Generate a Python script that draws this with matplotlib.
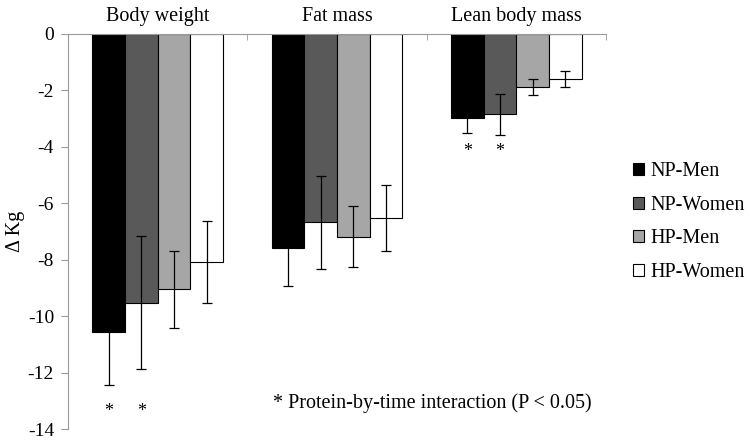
import matplotlib
matplotlib.use("Agg")
import matplotlib.pyplot as plt
import numpy as np
from matplotlib.patches import Patch

categories = ["Body weight", "Fat mass", "Lean body mass"]
groups = ["NP-Men", "NP-Women", "HP-Men", "HP-Women"]
values = {
    "NP-Men":   [-10.55, -7.58, -2.97],
    "NP-Women": [-9.52, -6.67, -2.85],
    "HP-Men":   [-9.05, -7.18, -1.87],
    "HP-Women": [-8.07, -6.52, -1.59],
}
errors = {
    "NP-Men":   [1.89, 1.34, 0.53],
    "NP-Women": [2.37, 1.65, 0.72],
    "HP-Men":   [1.37, 1.07, 0.29],
    "HP-Women": [1.45, 1.16, 0.28],
}
colors = {"NP-Men": "#000000", "NP-Women": "#595959", "HP-Men": "#a6a6a6", "HP-Women": "#ffffff"}
star_marks = [("Body weight", "NP-Men", -13.37), ("Body weight", "NP-Women", -13.37),
              ("Lean body mass", "NP-Men", -4.18), ("Lean body mass", "NP-Women", -4.18)]
yticks = [0, -2, -4, -6, -8, -10, -12, -14]
footnote = "* Protein-by-time interaction (P < 0.05)"

plt.rcParams['font.family'] = ['Liberation Serif', 'DejaVu Serif']
fig = plt.figure(figsize=(7.5, 4.4), dpi=100)
ax = fig.add_axes([68/750, 1-429/440, (606-68)/750, (429-34)/440])

x = np.arange(len(categories))
w = 0.182
for i, g in enumerate(groups):
    xs = x + (i - 1.5) * w
    ax.bar(xs, values[g], width=w, color=colors[g], edgecolor="black", linewidth=0.8, zorder=2)
    ax.errorbar(xs, values[g], yerr=errors[g], fmt="none", ecolor="black",
                elinewidth=0.9, capsize=3.5, capthick=0.9, zorder=3)

for cat, g, yv in star_marks:
    xi = categories.index(cat) + (groups.index(g) - 1.5) * w
    ax.text(xi, yv, "*", ha="center", va="center", fontsize=13)

ax.set_xlim(-0.5, 2.5)
ax.set_ylim(-14, 0)
ax.set_yticks(yticks)
ax.set_yticklabels([str(t) for t in yticks], fontsize=14)
ax.set_xticks([])
ax.set_xticks([0.5, 1.5, 2.5], minor=True)
ax.tick_params(axis="x", which="minor", direction="in", length=4, color="#999999", bottom=False, top=True)
ax.tick_params(axis="y", direction="out", length=5, color="#999999", pad=5)
for s in ["right", "bottom"]:
    ax.spines[s].set_visible(False)
ax.spines["left"].set_color("#999999")
ax.spines["top"].set_color("#999999")
ax.spines["left"].set_zorder(1)

for i, c in enumerate(categories):
    ax.text(i, 0.3, c, ha="center", va="bottom", fontsize=14.5)

ax.set_ylabel("Δ Kg", fontsize=14.5, labelpad=2)
ax.text(1.53, -13.08, footnote, ha="center", va="center", fontsize=14.5)

handles = [Patch(facecolor=colors[g], edgecolor="black", linewidth=0.8) for g in groups]
fig.legend(handles, groups, loc="center left", bbox_to_anchor=(625/750, 1-222/440),
           frameon=False, fontsize=14.5, handlelength=0.55, handleheight=0.55,
           handletextpad=0.3, labelspacing=0.72, borderaxespad=0)

fig.savefig("out.png", dpi=100)
